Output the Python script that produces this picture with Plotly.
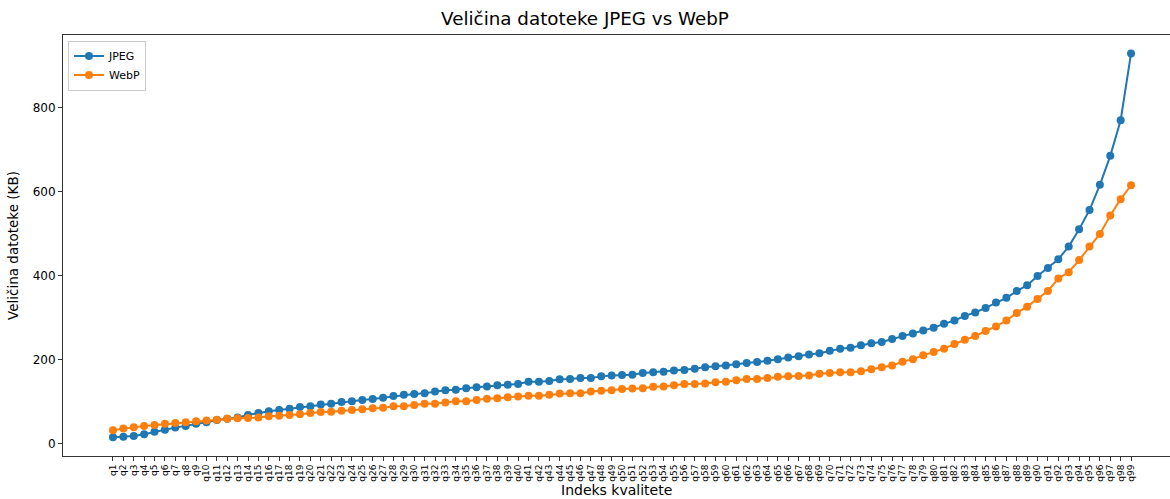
import plotly.graph_objects as go

categories = [f"q{i}" for i in range(1, 100)]

jpeg = [16, 17, 19, 23, 29, 34, 39, 43, 48, 52,
        57, 60, 63, 69, 74, 78, 81, 84, 88, 90,
        94, 96, 100, 102, 105, 107, 110, 114, 117, 119,
        121, 125, 128, 129, 133, 135, 137, 140, 141, 143,
        148, 148, 150, 154, 155, 157, 157, 161, 163, 164,
        165, 169, 171, 172, 175, 176, 179, 183, 185, 187,
        190, 193, 195, 198, 202, 206, 209, 213, 216, 222,
        227, 229, 235, 240, 243, 250, 257, 263, 270, 277,
        286, 294, 305, 313, 324, 337, 348, 364, 378, 400,
        419, 440, 470, 511, 557, 617, 686, 771, 930]

webp = [33, 37, 40, 43, 45, 48, 50, 52, 54, 56,
        58, 60, 61, 62, 63, 66, 67, 69, 71, 74,
        76, 77, 79, 81, 83, 85, 86, 90, 90, 93,
        96, 96, 99, 102, 102, 105, 108, 109, 111, 113,
        115, 115, 117, 120, 121, 121, 125, 127, 128, 131,
        132, 133, 136, 137, 140, 143, 143, 144, 147, 148,
        152, 155, 155, 157, 160, 161, 162, 163, 167, 169,
        171, 171, 173, 178, 183, 187, 196, 202, 211, 219,
        227, 238, 248, 257, 269, 280, 294, 312, 327, 345,
        364, 394, 409, 438, 470, 500, 544, 583, 616]

y_ticks = [0, 200, 400, 600, 800]

FONT = "DejaVu Sans"

W, H = 1170, 499
ML, MR, MT, MB = 63, 0, 35, 43
PH = H - MT - MB

fig = go.Figure()
fig.add_trace(go.Scatter(x=categories, y=jpeg, name="JPEG", mode="lines+markers",
                         line=dict(color="#1f77b4", width=2),
                         marker=dict(color="#1f77b4", size=8)))
fig.add_trace(go.Scatter(x=categories, y=webp, name="WebP", mode="lines+markers",
                         line=dict(color="#ff7f0e", width=2),
                         marker=dict(color="#ff7f0e", size=8)))

fig.update_layout(
    width=W, height=H,
    margin=dict(l=ML, r=MR, t=MT, b=MB, pad=0),
    paper_bgcolor="white", plot_bgcolor="white",
    font=dict(family=FONT, color="black"),
    title=dict(text="Veličina datoteke JPEG vs WebP", x=0.5, xanchor="center",
               y=1 - 19 / H, yanchor="middle", font=dict(size=18.3, family=FONT)),
    showlegend=True,
    legend=dict(x=0.0045, y=1 - 5.5 / PH, xanchor="left", yanchor="top",
                bgcolor="rgba(255,255,255,0.8)", bordercolor="#cccccc", borderwidth=1,
                font=dict(size=11, family=FONT), tracegroupgap=0, itemwidth=30),
    xaxis=dict(type="category", range=[-4.81, 101.75], showgrid=False, zeroline=False,
               showline=True, mirror=True, linecolor="#333333", linewidth=1,
               ticks="outside", ticklen=4, tickcolor="#333333",
               tickmode="array", tickvals=categories, ticktext=categories,
               tickangle=-90, tickfont=dict(size=9, family=FONT), automargin=False),
    yaxis=dict(range=[-28.6, 973.8], tickvals=y_ticks, showgrid=False, zeroline=False,
               showline=True, mirror=False, linecolor="#333333", linewidth=1,
               ticks="outside", ticklen=4, tickcolor="#333333",
               tickfont=dict(size=12, family=FONT), automargin=False,
               title=dict(text="Veličina datoteke (KB)", font=dict(size=13.5, family=FONT),
                          standoff=10)),
    annotations=[dict(text="Indeks kvalitete", x=0.5, xref="paper",
                      y=-(490 - (H - MB)) / PH, yref="paper", yanchor="middle",
                      xanchor="center", showarrow=False,
                      font=dict(size=14, family=FONT))],
)

fig.write_html("out.html", config={"displayModeBar": False},
               post_script="document.body.style.margin='0';document.body.style.overflow='hidden';")
